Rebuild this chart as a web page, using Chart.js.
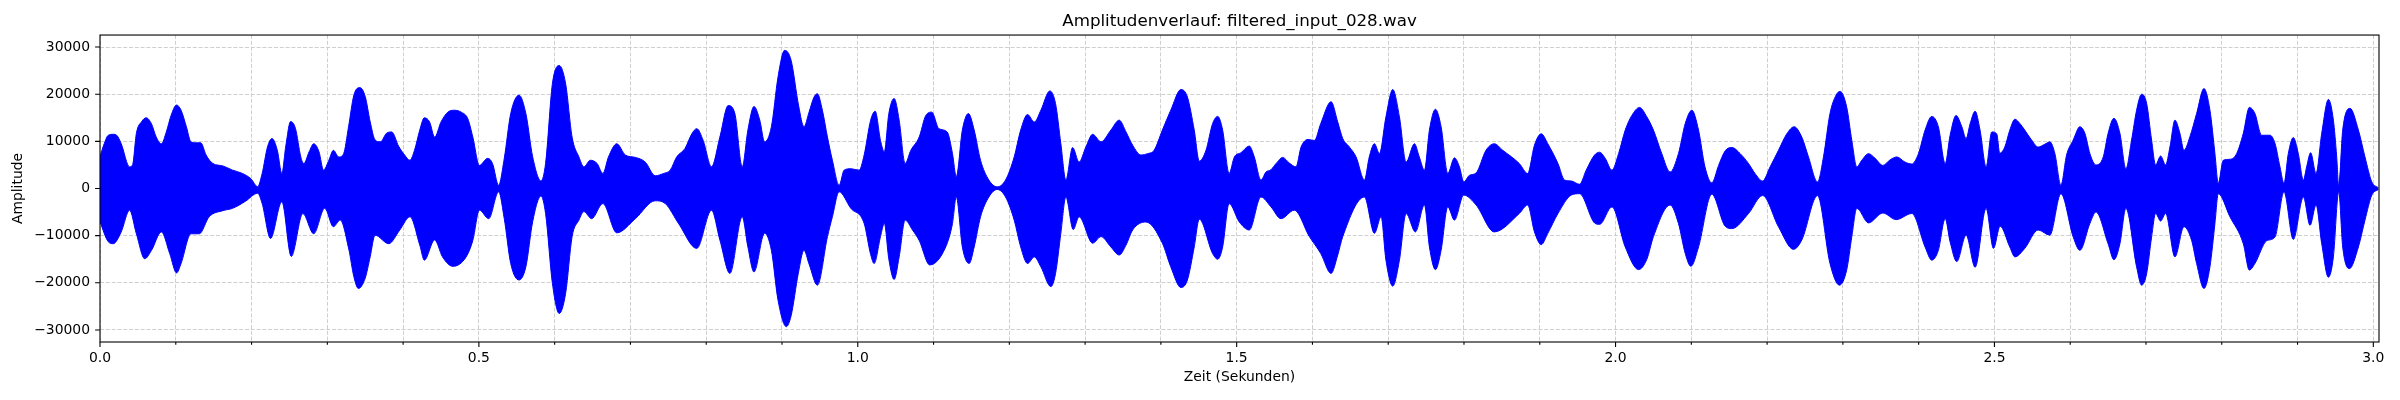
<!DOCTYPE html>
<html>
<head>
<meta charset="utf-8">
<title>Amplitudenverlauf</title>
<script src="https://cdn.jsdelivr.net/npm/chart.js@4.4.1/dist/chart.umd.min.js"></script>
<style>
  html, body { margin: 0; padding: 0; background: #fff; }
  canvas { display: block; }
</style>
</head>
<body>
<canvas id="waveChart" width="2400" height="400"></canvas>
<script>
// upper envelope of the waveform (time in s, amplitude)
const upperTime = [
  0.000, 0.004, 0.011, 0.0175, 0.022, 0.028, 0.039, 0.043, 0.048, 0.055, 0.061, 0.068, 0.074, 0.081, 0.0875,
  0.094, 0.101, 0.107, 0.114, 0.120, 0.127, 0.133, 0.140, 0.149, 0.162, 0.175, 0.188, 0.199, 0.208, 0.214,
  0.221, 0.227, 0.234, 0.240, 0.245, 0.2515, 0.258, 0.265, 0.269, 0.276, 0.282, 0.289, 0.295, 0.302, 0.308,
  0.315, 0.3215, 0.328, 0.335, 0.343, 0.350, 0.3565, 0.363, 0.370, 0.378, 0.385, 0.394,
  0.402, 0.409, 0.415, 0.422, 0.428, 0.435, 0.4416, 0.450, 0.459, 0.468, 0.4766, 0.4854, 0.492, 0.5007,
  0.5116, 0.518, 0.526, 0.5335, 0.542, 0.553, 0.562, 0.571, 0.582, 0.588, 0.597, 0.606, 0.6145, 0.623,
  0.632, 0.6386, 0.647, 0.656, 0.6636, 0.671, 0.682, 0.6933, 0.7065, 0.7196, 0.7327, 0.7437, 0.7525, 0.761,
  0.772, 0.781, 0.7875, 0.796, 0.807, 0.818, 0.829, 0.8378, 0.8475, 0.855, 0.863, 0.8707, 0.877, 0.886,
  0.8948, 0.9035, 0.912, 0.922,
  0.929, 0.9357, 0.9423, 0.9467, 0.9533, 0.960, 0.9665, 0.9754, 0.982, 0.9908, 1.0018, 1.0084, 1.017, 1.023,
  1.030, 1.035, 1.041, 1.048, 1.0546, 1.0625, 1.070, 1.081, 1.0898, 1.0977, 1.107, 1.118, 1.125, 1.130,
  1.138, 1.146, 1.1536, 1.162, 1.173, 1.184, 1.195, 1.2064, 1.215, 1.224, 1.233, 1.2416, 1.2535, 1.261,
  1.268, 1.2746, 1.2835, 1.292, 1.301, 1.310, 1.321, 1.334, 1.345, 1.354, 1.3627, 1.3737, 1.3825, 1.391,
  1.402, 1.413, 1.4265, 1.435, 1.444, 1.4507,
  1.4595, 1.4683, 1.475, 1.4815, 1.490, 1.497, 1.5057, 1.5167, 1.5233, 1.532, 1.5387, 1.5453, 1.552, 1.5607,
  1.5695, 1.5783, 1.585, 1.594, 1.6026, 1.611, 1.6246, 1.6334, 1.640, 1.6488, 1.6576, 1.6686, 1.675, 1.6818,
  1.6884, 1.697, 1.706, 1.7148, 1.7236, 1.7346, 1.741, 1.7478, 1.7544, 1.7623, 1.7698, 1.7786, 1.7874, 1.794,
  1.7997, 1.8072, 1.816, 1.829, 1.840, 1.8512, 1.873, 1.884, 1.893, 1.902, 1.9106, 1.924, 1.9327, 1.9415,
  1.9525, 1.9613, 1.9723, 1.979,
  1.9864, 1.9952, 2.004, 2.0128, 2.0215, 2.0317, 2.0413, 2.050, 2.061, 2.072, 2.083, 2.092, 2.1007, 2.1095,
  2.118, 2.127, 2.136, 2.1447, 2.1535, 2.1645, 2.1755, 2.184, 2.194, 2.204, 2.215, 2.226, 2.2357, 2.2458,
  2.2546, 2.2665, 2.2744, 2.283, 2.291, 2.2964, 2.305, 2.3118, 2.3184, 2.325, 2.3338, 2.3426, 2.3527, 2.3624,
  2.3712, 2.382, 2.391, 2.3997, 2.4085, 2.4173, 2.426, 2.435, 2.4415, 2.4494, 2.457, 2.4626, 2.468, 2.4745,
  2.481, 2.489, 2.4965, 2.503,
  2.507, 2.5137, 2.5203, 2.527, 2.5335, 2.540, 2.549, 2.5577, 2.5665, 2.5731, 2.5798, 2.5877, 2.5952, 2.604,
  2.6128, 2.6194, 2.626, 2.634, 2.6436, 2.650, 2.6577, 2.6656, 2.6735, 2.681, 2.6876, 2.6942, 2.7008, 2.7074,
  2.7127, 2.7193, 2.7259, 2.7316, 2.7382, 2.7448, 2.7501, 2.758, 2.7668, 2.7765, 2.7844, 2.791, 2.7954, 2.802,
  2.8108, 2.8196, 2.8284, 2.8364, 2.8438, 2.8526, 2.8636, 2.8702, 2.8768, 2.8821, 2.8878, 2.8944, 2.901, 2.9077,
  2.912, 2.9173, 2.9244, 2.9319, 2.9407, 2.9473, 2.9517, 2.9543, 2.9596, 2.9693, 2.9803, 2.989, 2.998, 3.0067
];
const upperAmp = [
  6700, 8800, 11300, 11500, 11300, 9500, 4600, 5000, 11700, 14200, 15000, 13700, 11000, 9500, 12000,
  15600, 17700, 16600, 13100, 9900, 9700, 9700, 7100, 5300, 4800, 3900, 3200, 2100, 400, 3200,
  8800, 10600, 8100, 3200, 8800, 14200, 12700, 6700, 5300, 7800, 9500, 7800, 3900, 6000, 8100,
  6700, 7400, 13100, 19800, 21400, 19500, 14200, 10300, 9900, 11700, 12000, 9000,
  7100, 6000, 8100, 12400, 15000, 14100, 10900, 14100, 16200, 16600, 16200, 14800, 10900, 4900,
  6400, 5300, 700, 6400, 15900, 19800, 15900, 6700, 1600, 5300, 22200, 26100, 22200, 10900,
  6700, 4600, 6000, 5300, 3200, 6700, 9500, 7100, 6600, 5600, 2700, 3200, 3900, 6700,
  8500, 11600, 12700, 10200, 4600, 10900, 17600, 15900, 4600, 12400, 17400, 14500, 9900, 13100,
  23700, 29300, 27200, 17500,
  13100, 16200, 19400, 20100, 16600, 10900, 6000, 700, 3900, 4200, 3900, 7100, 14500, 16400,
  10200, 7800, 15900, 19100, 14500, 5300, 8100, 10900, 15500, 16200, 12700, 12000, 7400, 2500,
  12400, 15900, 12400, 6000, 1800, 350, 1800, 6700, 12400, 15700, 14100, 16600, 20700, 18000,
  9500, 1800, 8700, 5600, 8800, 11500, 9900, 12400, 14500, 12000, 9200, 7100, 7400, 8100,
  12400, 16600, 21000, 19400, 12400, 5800,
  8100, 13800, 15300, 12400, 3200, 6700, 7600, 9000, 6700, 1800, 3500, 4000, 5300, 6600,
  5400, 4600, 8800, 10400, 10200, 13800, 18400, 14100, 10600, 8800, 6700, 1800, 6700, 9500,
  7400, 15200, 21000, 15200, 5600, 9500, 6700, 3900, 12400, 16800, 13100, 3200, 6500, 4600,
  1400, 2800, 3300, 8100, 9500, 8100, 5300, 3200, 9200, 11600, 9500, 5300, 1800, 1600,
  900, 3900, 7100, 7700,
  6400, 3900, 7400, 12400, 15500, 17200, 15200, 12400, 7400, 3500, 7400, 13800, 16600, 12400,
  4600, 1200, 4900, 8000, 8700, 7400, 5300, 3200, 1600, 4600, 8100, 11600, 13100, 10900,
  6700, 1400, 6700, 15900, 19800, 20600, 17300, 10200, 4600, 6000, 7400, 6400, 4900, 6100,
  6700, 5600, 5200, 7400, 12400, 15300, 13100, 5300, 11300, 15500, 13100, 10600, 13800, 16400,
  12400, 4600, 12000, 11600,
  7500, 8800, 12400, 14700, 13800, 12400, 10300, 8800, 9400, 9900, 7400, 700, 7100, 10300,
  13100, 11700, 7400, 5000, 6700, 11700, 14900, 11700, 4200, 10300, 16600, 20000, 18100, 10300,
  5000, 6900, 5000, 8800, 14500, 11700, 8100, 11000, 15900, 21200, 16600, 7400, 1100, 6000,
  6200, 7400, 11700, 17200, 15900, 11300, 11300, 9600, 4600, 1100, 7400, 10800, 7400, 1800,
  4600, 7600, 3200, 11700, 18900, 14500, 6700, 700, 12400, 17000, 12400, 6700, 1400, 150
];

// lower envelope of the waveform
const lowerTime = [
  0.000, 0.011, 0.0175, 0.028, 0.039, 0.048, 0.059, 0.068, 0.081, 0.092, 0.101, 0.107, 0.120, 0.131, 0.144,
  0.162, 0.175, 0.192, 0.208, 0.214, 0.225, 0.240, 0.2524, 0.2677, 0.282, 0.2966, 0.308, 0.317, 0.3285, 0.335,
  0.341, 0.350, 0.3565, 0.363, 0.381, 0.3956, 0.409, 0.422, 0.428, 0.4416, 0.452, 0.4657, 0.4832, 0.492, 0.5007,
  0.513, 0.526, 0.5335, 0.542, 0.553, 0.562, 0.571, 0.582, 0.588, 0.597, 0.606, 0.6145, 0.623, 0.632, 0.6386,
  0.6487, 0.6636, 0.682, 0.7065, 0.7327, 0.746, 0.7634, 0.7875, 0.807, 0.818, 0.8313, 0.8475, 0.855, 0.863, 0.877,
  0.886, 0.8948, 0.9057, 0.912, 0.9215, 0.929, 0.9357, 0.9467, 0.960, 0.9665, 0.9754, 0.9908, 1.0084, 1.017, 1.0216,
  1.030, 1.035, 1.041, 1.048, 1.0546, 1.0625, 1.0722, 1.081, 1.095, 1.116, 1.125, 1.130, 1.138, 1.147, 1.1536,
  1.162, 1.173, 1.184, 1.195, 1.2064, 1.215, 1.224, 1.233, 1.2416, 1.2548, 1.261, 1.268, 1.2746, 1.2843, 1.292,
  1.310, 1.321, 1.334, 1.345, 1.354, 1.3627, 1.3803, 1.402, 1.413, 1.4265, 1.435, 1.444, 1.4507, 1.4683, 1.475,
  1.4815, 1.490, 1.5035, 1.5167, 1.532, 1.5453, 1.5585, 1.576, 1.596, 1.611, 1.6246, 1.6334, 1.640, 1.6686, 1.6818,
  1.6906, 1.697, 1.706, 1.7148, 1.7236, 1.7359, 1.7478, 1.7544, 1.7623, 1.7698, 1.7786, 1.7874, 1.7997, 1.816, 1.840,
  1.873, 1.884, 1.893, 1.902, 1.9106, 1.924, 1.9415, 1.9525, 1.9723, 1.979, 1.9952, 2.0128, 2.0303, 2.0413, 2.050,
  2.072, 2.083, 2.092, 2.0994, 2.1095, 2.127, 2.1447, 2.1535, 2.1755, 2.194, 2.215, 2.2348, 2.2458, 2.2665, 2.283,
  2.2955, 2.305, 2.3118, 2.3184, 2.3338, 2.3527, 2.3703, 2.391, 2.4085, 2.4173, 2.426, 2.435, 2.4415, 2.4503, 2.4626,
  2.4745, 2.489, 2.4987, 2.5075, 2.5203, 2.527, 2.540, 2.5577, 2.5731, 2.5877, 2.604, 2.6128, 2.626, 2.634, 2.650,
  2.6577, 2.6656, 2.6735, 2.6876, 2.6942, 2.7008, 2.7074, 2.7127, 2.7193, 2.7259, 2.7382, 2.7501, 2.7602, 2.7668, 2.7765,
  2.7844, 2.791, 2.7954, 2.8108, 2.8284, 2.8364, 2.8438, 2.8592, 2.8702, 2.8821, 2.8944, 2.9077, 2.9165, 2.9244, 2.9319,
  2.9407, 2.9473, 2.9543, 2.9596, 2.9684, 2.9803, 2.989, 2.998, 3.0067
];
const lowerAmp = [
  -7100, -11300, -11700, -9200, -4600, -9600, -14900, -13100, -9200, -13800, -17900, -15900, -9600, -9600, -6000,
  -4700, -4200, -2700, -1000, -3200, -10600, -2800, -14400, -5300, -9600, -4200, -8100, -6700, -13000, -18700,
  -21200, -19000, -14500, -9900, -11700, -8800, -6000, -12000, -15200, -10900, -14500, -16500, -14500, -11000, -4600,
  -6400, -700, -6400, -15900, -19400, -16600, -7000, -1600, -5300, -20100, -26500, -22200, -10200, -6700, -4900,
  -6400, -3200, -9400, -6400, -2600, -3200, -7400, -12700, -4600, -10900, -18000, -6000, -12400, -17700, -9500,
  -13100, -23700, -29300, -27000, -18000, -13100, -16000, -20500, -10200, -6000, -700, -4200, -7400, -14000, -15900,
  -10200, -7400, -15000, -19300, -14500, -6700, -8800, -11000, -16200, -12400, -7400, -1800, -12400, -15900, -12400,
  -6000, -1800, -200, -1800, -6700, -12400, -15900, -14500, -16600, -20800, -18000, -9500, -1800, -8700, -6000,
  -11600, -10200, -12400, -14100, -12000, -8800, -7100, -11600, -16600, -21000, -19400, -12400, -6500, -13800, -15000,
  -12400, -3200, -7100, -8800, -1800, -3900, -6400, -4600, -10200, -13800, -18000, -14100, -10200, -1800, -9500,
  -6000, -15200, -20700, -15200, -5300, -9200, -3500, -12400, -17200, -13100, -3900, -6700, -1400, -3500, -9200,
  -5300, -3500, -9200, -11900, -9500, -5300, -1400, -1100, -7300, -7600, -3900, -12400, -17200, -15000, -10200,
  -3500, -7400, -13800, -16500, -12400, -1200, -8000, -8500, -5300, -1500, -8100, -12900, -10900, -1500, -15900,
  -20500, -17300, -10200, -4200, -7300, -5200, -6600, -5300, -12400, -15200, -13100, -6400, -11300, -15500, -9900,
  -16700, -4200, -12700, -8000, -12400, -14500, -12700, -8800, -9900, -1100, -10300, -13100, -7400, -5000, -11700,
  -15100, -11700, -4200, -16600, -20500, -18100, -10300, -5300, -6900, -5300, -14500, -8100, -11000, -15900, -21200,
  -16600, -7400, -1100, -6000, -11700, -17300, -15900, -11100, -10300, -700, -10800, -1800, -7800, -3500, -11700,
  -18800, -14500, -700, -12400, -17000, -12400, -6700, -1400, -200
];

// axis ticks
const xTickValues = [
  0.0, 0.1, 0.2, 0.3, 0.4, 0.5, 0.6, 0.7, 0.8, 0.9, 1.0, 1.1, 1.2, 1.3, 1.4, 1.5,
  1.6, 1.7, 1.8, 1.9, 2.0, 2.1, 2.2, 2.3, 2.4, 2.5, 2.6, 2.7, 2.8, 2.9, 3.0
];
const xTickLabels = ['0.0', '0.5', '1.0', '1.5', '2.0', '2.5', '3.0'];
const yTickValues = [-30000, -20000, -10000, 0, 10000, 20000, 30000];
const yTickLabels = ['\u221230000', '\u221220000', '\u221210000', '0', '10000', '20000', '30000'];
const duration = 3.0075;

function isMajor(v) {
    return Math.round(v * 10) % 5 === 0;
}

// spines and tick marks, matplotlib style
const frame = {
    id: 'frame',
    afterDraw(chart) {
        const { ctx, chartArea: a, scales: { x, y } } = chart;
        ctx.save();
        ctx.strokeStyle = '#000';
        ctx.lineWidth = 1.1;
        ctx.strokeRect(a.left, a.top, a.right - a.left, a.bottom - a.top);
        ctx.beginPath();
        x.ticks.forEach(t => {
            const px = x.getPixelForValue(t.value);
            ctx.moveTo(px, a.bottom);
            ctx.lineTo(px, a.bottom + (isMajor(t.value) ? 4.9 : 2.8));
        });
        y.ticks.forEach(t => {
            const py = y.getPixelForValue(t.value);
            ctx.moveTo(a.left, py);
            ctx.lineTo(a.left - 4.9, py);
        });
        ctx.stroke();
        ctx.restore();
    }
};

const font = 'DejaVu Sans';
const ctx = document.getElementById('waveChart').getContext('2d');
let chart = new Chart(ctx, {
    type: 'line',
    data: {
        datasets: [{
            label: 'upper',
            data: upperTime.map((t, i) => ({ x: t, y: upperAmp[i] })),
            borderColor: '#0000ff',
            backgroundColor: '#0000ff',
            borderWidth: 1,
            pointRadius: 0,
            cubicInterpolationMode: 'monotone',
            fill: '+1'
        }, {
            label: 'lower',
            data: lowerTime.map((t, i) => ({ x: t, y: lowerAmp[i] })),
            borderColor: '#0000ff',
            backgroundColor: '#0000ff',
            borderWidth: 1,
            pointRadius: 0,
            cubicInterpolationMode: 'monotone',
            fill: false
        }]
    },
    options: {
        responsive: false,
        animation: false,
        devicePixelRatio: 1,
        layout: { padding: { left: 0, right: 21, top: 0, bottom: 0 } },
        plugins: {
            legend: { display: false },
            tooltip: { enabled: false },
            title: {
                display: true,
                fullSize: false,
                text: 'Amplitudenverlauf: filtered_input_028.wav',
                color: '#000',
                font: { family: font, size: 16.7, weight: 'normal' },
                padding: { top: 12, bottom: 3 }
            }
        },
        scales: {
            x: {
                type: 'linear',
                min: 0,
                max: duration,
                afterFit: s => { s.height = 58; },
                afterBuildTicks: s => { s.ticks = xTickValues.map(v => ({ value: v })); },
                border: { display: false, dash: [4, 1.8] },
                grid: { color: '#cfcfcf', lineWidth: 1, drawTicks: false },
                ticks: {
                    autoSkip: false,
                    maxRotation: 0,
                    padding: 8,
                    color: '#000',
                    font: { family: font, size: 13.9 },
                    callback: v => isMajor(v) ? xTickLabels[Math.round(v * 2)] : ''
                },
                title: {
                    display: true,
                    text: 'Zeit (Sekunden)',
                    color: '#000',
                    font: { family: font, size: 13.9 },
                    padding: { top: 0, bottom: 14 }
                }
            },
            y: {
                min: -32550,
                max: 32550,
                afterFit: s => { s.width = 100; },
                afterBuildTicks: s => { s.ticks = yTickValues.map(v => ({ value: v })); },
                border: { display: false, dash: [4, 1.8] },
                grid: { color: '#cfcfcf', lineWidth: 1, drawTicks: false },
                ticks: {
                    padding: 10,
                    color: '#000',
                    font: { family: font, size: 13.9 },
                    callback: v => yTickLabels[yTickValues.indexOf(v)]
                },
                title: {
                    display: true,
                    text: 'Amplitude',
                    color: '#000',
                    font: { family: font, size: 13.9 },
                    padding: { top: 10, bottom: 0 }
                }
            }
        }
    },
    plugins: [frame]
});
</script>
</body>
</html>
